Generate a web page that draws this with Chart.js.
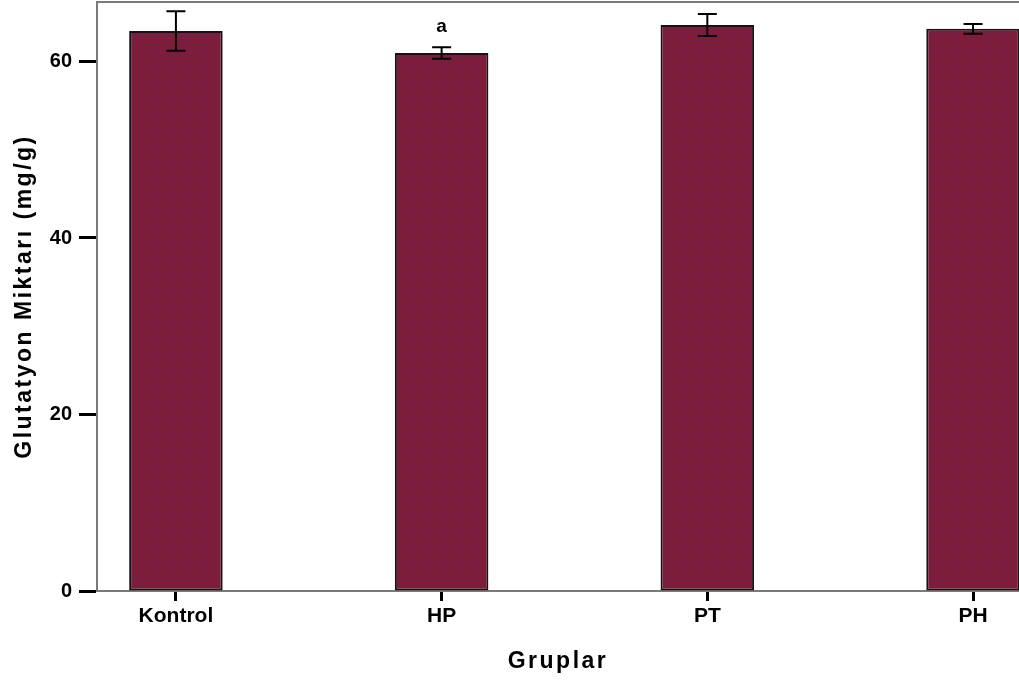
<!DOCTYPE html>
<html>
<head>
<meta charset="utf-8">
<script src="https://cdn.jsdelivr.net/npm/chart.js@4"></script>
<style>
  html, body { margin: 0; padding: 0; background: #fff; overflow: hidden; }
  #wrap { width: 1019px; height: 687px; position: relative; }
</style>
</head>
<body>
<div id="wrap"><canvas id="c"></canvas></div>
<script>
// Glutathione amount per group (mean ± error)
const groups = ['Kontrol', 'HP', 'PT', 'PH'];
const means = [63.45, 60.95, 64.14, 63.7];
const errors = [2.24, 0.65, 1.25, 0.55];
const marks = ['', 'a', '', ''];
const yTicks = [0, 20, 40, 60];

const FONT = "'Liberation Sans', Arial, sans-serif";

// dotted maroon fill
function makePattern() {
  const t = document.createElement('canvas');
  t.width = 4; t.height = 4;
  const g = t.getContext('2d');
  g.fillStyle = '#881a2a';
  g.fillRect(0, 0, 4, 4);
  g.fillStyle = '#46298a';
  g.fillRect(1, 1, 1, 1);
  g.fillRect(3, 3, 1, 1);
  g.fillRect(3, 1, 1, 1);
  return g.createPattern(t, 'repeat');
}

const errorBars = {
  id: 'errorBars',
  afterDatasetsDraw(chart) {
    const ctx = chart.ctx;
    const y = chart.scales.y;
    const meta = chart.getDatasetMeta(0);
    ctx.save();
    ctx.strokeStyle = '#000';
    ctx.lineWidth = 2;
    meta.data.forEach((bar, i) => {
      const x = bar.x;
      const top = y.getPixelForValue(means[i] + errors[i]);
      const bot = y.getPixelForValue(means[i] - errors[i]);
      ctx.beginPath();
      ctx.moveTo(x, top); ctx.lineTo(x, bot);
      ctx.moveTo(x - 9.5, top); ctx.lineTo(x + 9.5, top);
      ctx.moveTo(x - 9.5, bot); ctx.lineTo(x + 9.5, bot);
      ctx.stroke();
      if (marks[i]) {
        ctx.fillStyle = '#000';
        ctx.font = 'bold 19px ' + FONT;
        ctx.textAlign = 'center';
        ctx.textBaseline = 'middle';
        ctx.fillText(marks[i], x, top - 21);
      }
    });
    ctx.restore();
  }
};

const frameTop = {
  id: 'frameTop',
  afterDraw(chart) {
    const { ctx, chartArea } = chart;
    ctx.save();
    ctx.strokeStyle = '#7a7a7a';
    ctx.lineWidth = 2;
    ctx.beginPath();
    ctx.moveTo(chartArea.left - 1, chartArea.top);
    ctx.lineTo(chartArea.right, chartArea.top);
    ctx.stroke();
    ctx.restore();
  }
};

// spaced-out axis titles
const spacedTitles = {
  id: 'spacedTitles',
  beforeDraw(chart) {
    Object.values(chart.scales).forEach(s => {
      if (s._spaced) return;
      const orig = s.drawTitle;
      s.drawTitle = function () {
        const c = this.ctx;
        c.save();
        c.letterSpacing = '2.5px';
        orig.apply(this, arguments);
        c.restore();
      };
      s._spaced = true;
    });
  }
};

function noOverhang(scale) {
  scale.paddingTop = 0;
  scale.paddingBottom = 0;
  scale.paddingLeft = 0;
  scale.paddingRight = 0;
}

new Chart(document.getElementById('c'), {
  type: 'bar',
  data: {
    datasets: [{
      data: means.map((v, i) => ({ x: i, y: v })),
      backgroundColor: makePattern(),
      borderColor: '#141414',
      borderWidth: 2,
      borderSkipped: false,
      categoryPercentage: 1,
      barPercentage: 0.352
    }]
  },
  options: {
    responsive: true,
    maintainAspectRatio: false,
    animation: false,
    layout: { padding: { top: 2, right: 0, left: 0, bottom: 0 } },
    plugins: { legend: { display: false }, tooltip: { enabled: false } },
    scales: {
      x: {
        type: 'linear',
        offset: false,
        min: -0.297,
        max: 3.173,
        afterBuildTicks(scale) { scale.ticks = groups.map((_, i) => ({ value: i })); },
        afterFit(scale) { scale.height = 96; noOverhang(scale); },
        ticks: {
          callback: (v) => groups[v] ?? '',
          color: '#000',
          font: { family: FONT, size: 21, weight: 'bold' },
          padding: 3,
          maxRotation: 0,
          autoSkip: false
        },
        grid: {
          offset: false,
          drawOnChartArea: false,
          drawTicks: true,
          tickLength: 10,
          tickWidth: 3,
          tickColor: '#000'
        },
        border: { display: true, color: '#7a7a7a', width: 2 },
        title: {
          display: true,
          text: 'Gruplar',
          color: '#000',
          font: { family: FONT, size: 23, weight: 'bold' },
          padding: { top: 0, bottom: 12 }
        }
      },
      y: {
        min: 0,
        max: 66.74,
        afterBuildTicks(scale) { scale.ticks = yTicks.map(v => ({ value: v })); },
        afterFit(scale) { scale.width = 97; noOverhang(scale); },
        ticks: {
          color: '#000',
          font: { family: FONT, size: 20, weight: 'bold' },
          padding: 7
        },
        grid: {
          drawOnChartArea: false,
          drawTicks: true,
          tickLength: 18,
          tickWidth: 3,
          tickColor: '#000'
        },
        border: { display: true, color: '#7a7a7a', width: 2 },
        title: {
          display: true,
          text: 'Glutatyon Miktarı (mg/g)',
          color: '#000',
          font: { family: FONT, size: 23, weight: 'bold' },
          padding: { top: 11, bottom: 0 }
        }
      }
    }
  },
  plugins: [errorBars, frameTop, spacedTitles]
});
</script>
</body>
</html>
